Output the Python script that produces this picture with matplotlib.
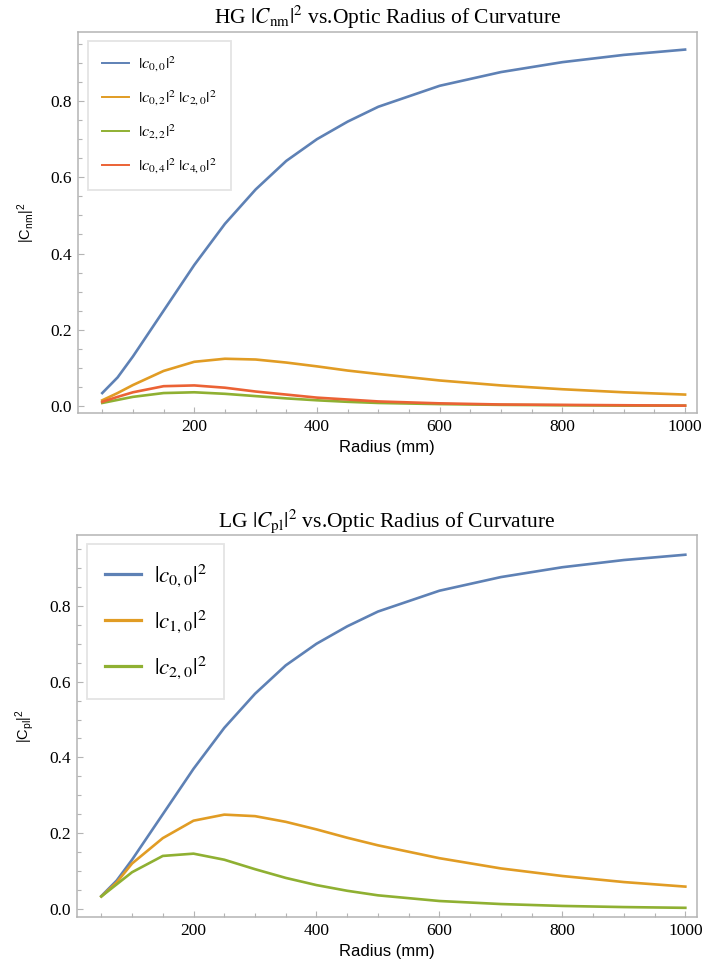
import numpy as np
import matplotlib.pyplot as plt
from matplotlib.ticker import MultipleLocator, FormatStrFormatter

plt.rcParams['mathtext.fontset'] = 'custom'
plt.rcParams['mathtext.rm'] = 'Liberation Sans'
plt.rcParams['mathtext.it'] = 'Liberation Sans:italic'

radius = [50, 75, 100, 150, 200, 250, 300, 350, 400, 450, 500, 600, 700, 800, 900, 1000]

# HG mode weights
hg_c00 = [0.034, 0.075, 0.130, 0.250, 0.370, 0.478, 0.568, 0.643, 0.700, 0.746, 0.785, 0.840, 0.876, 0.902, 0.921, 0.935]
hg_c02 = [0.015, 0.034, 0.055, 0.092, 0.116, 0.124, 0.122, 0.114, 0.104, 0.093, 0.084, 0.067, 0.054, 0.044, 0.036, 0.030]
hg_c22 = [0.008, 0.016, 0.024, 0.034, 0.036, 0.032, 0.026, 0.020, 0.015, 0.011, 0.008, 0.005, 0.003, 0.002, 0.001, 0.001]
hg_c04 = [0.011, 0.024, 0.036, 0.052, 0.054, 0.048, 0.038, 0.030, 0.022, 0.017, 0.012, 0.007, 0.004, 0.003, 0.002, 0.001]

# LG mode weights
lg_c00 = hg_c00
lg_c10 = [0.033, 0.070, 0.120, 0.187, 0.233, 0.249, 0.245, 0.230, 0.210, 0.188, 0.168, 0.134, 0.107, 0.087, 0.071, 0.059]
lg_c20 = [0.033, 0.065, 0.097, 0.140, 0.146, 0.130, 0.105, 0.082, 0.063, 0.048, 0.036, 0.021, 0.013, 0.008, 0.005, 0.003]

blue, orange, green, red = '#5e81b5', '#e19c24', '#8fb032', '#eb6235'
grey = '#b4b4b4'

fig = plt.figure(figsize=(7.02, 9.71), dpi=100)
ax1 = fig.add_axes([0.1107, 0.5744, 0.8818, 0.3930])
ax2 = fig.add_axes([0.1093, 0.0553, 0.8836, 0.3937])


def style(ax, ylim):
    ax.set_xlim(10, 1019)
    ax.set_ylim(*ylim)
    ax.xaxis.set_major_locator(MultipleLocator(200))
    ax.xaxis.set_minor_locator(MultipleLocator(50))
    ax.yaxis.set_major_locator(MultipleLocator(0.2))
    ax.yaxis.set_minor_locator(MultipleLocator(0.05))
    ax.yaxis.set_major_formatter(FormatStrFormatter('%.1f'))
    ax.tick_params(which='both', direction='in', color=grey, top=False, right=False)
    ax.tick_params(which='major', length=4.5, width=0.8, labelsize=12.5, pad=4)
    ax.tick_params(which='minor', length=3, width=0.8)
    for lab in ax.get_xticklabels() + ax.get_yticklabels():
        lab.set_fontfamily('Liberation Serif')
    for s in ax.spines.values():
        s.set_color(grey)
        s.set_linewidth(1.1)
    ax.set_xlabel('Radius (mm)', fontfamily='Liberation Sans', fontsize=12, labelpad=4)


def legend(ax, size, hlen, lspace, bpad, lw_h):
    leg = ax.legend(loc='upper left', bbox_to_anchor=(0.017, 0.976), borderaxespad=0, fontsize=size,
                    handlelength=hlen, handletextpad=0.55, labelspacing=lspace, borderpad=bpad,
                    fancybox=False, edgecolor='#e4e4e4', framealpha=1)
    leg.get_frame().set_linewidth(1.3)
    for t in leg.get_texts():
        t.set_math_fontfamily('stix')
    for h in leg.get_lines():
        h.set_linewidth(lw_h)
    return leg


lw = 1.9
ax1.plot(radius, hg_c00, color=blue, lw=lw, label=r'$|c_{0,0}|^2$')
ax1.plot(radius, hg_c02, color=orange, lw=lw, label=r'$|c_{0,2}|^2\;|c_{2,0}|^2$')
ax1.plot(radius, hg_c22, color=green, lw=lw, label=r'$|c_{2,2}|^2$')
ax1.plot(radius, hg_c04, color=red, lw=lw, label=r'$|c_{0,4}|^2\;|c_{4,0}|^2$')
style(ax1, (-0.019, 0.982))
ax1.set_title(r'HG $|C_{\rm nm}|^2$ vs.Optic Radius of Curvature', fontfamily='Liberation Serif',
              fontsize=15.5, pad=6, math_fontfamily='stix')
ax1.set_ylabel(r'|C$_{\rm nm}$|$^2$', fontfamily='Liberation Sans', fontsize=10.5, labelpad=10)
legend(ax1, 11.8, 1.65, 0.88, 0.85, 1.4)

ax2.plot(radius, lg_c00, color=blue, lw=lw, label=r'$|c_{0,0}|^2$')
ax2.plot(radius, lg_c10, color=orange, lw=lw, label=r'$|c_{1,0}|^2$')
ax2.plot(radius, lg_c20, color=green, lw=lw, label=r'$|c_{2,0}|^2$')
style(ax2, (-0.022, 0.987))
ax2.set_title(r'LG $|C_{\rm pl}|^2$ vs.Optic Radius of Curvature', fontfamily='Liberation Serif',
              fontsize=15.5, pad=6, math_fontfamily='stix')
ax2.set_ylabel(r'|C$_{\rm pl}$|$^2$', fontfamily='Liberation Sans', fontsize=10.5, labelpad=10)
legend(ax2, 16.6, 1.6, 0.8, 0.75, 2.3)

fig.savefig('out.png', dpi=100)
